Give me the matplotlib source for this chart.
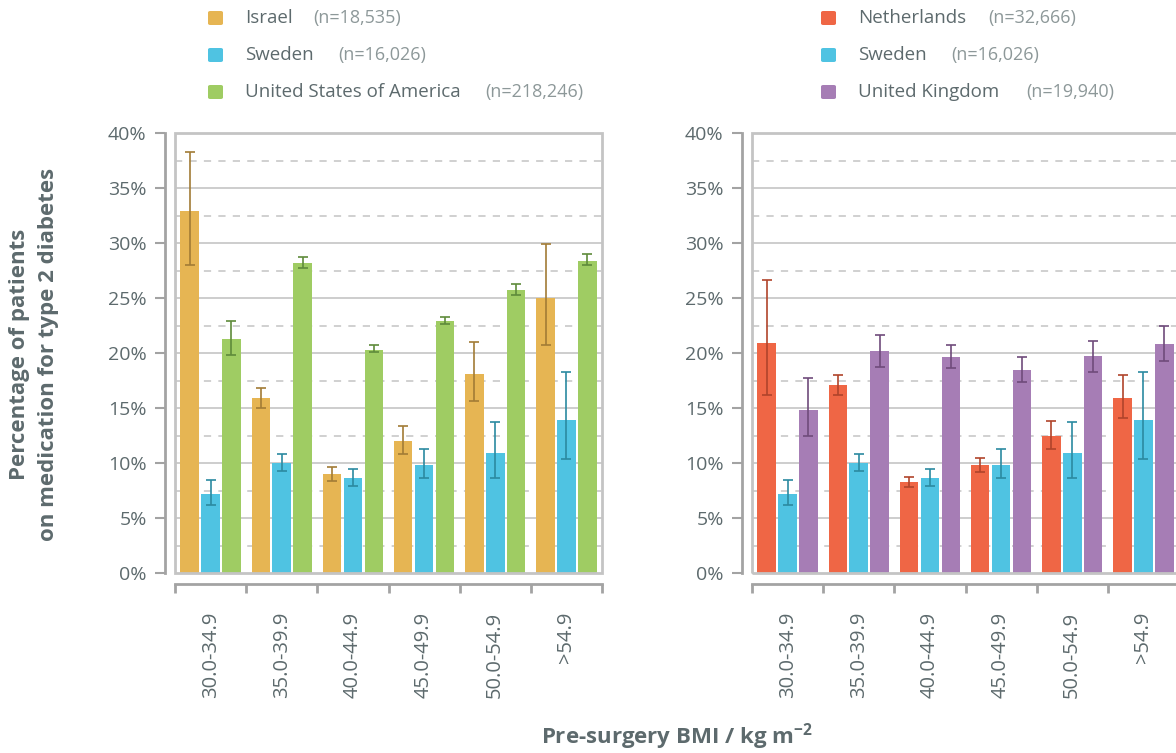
import numpy as np
import matplotlib.pyplot as plt
from matplotlib.patches import Rectangle, FancyBboxPatch

plt.rcParams['font.family'] = ['Open Sans', 'DejaVu Sans']

W, H = 1176, 753
TXT = '#5d6a6d'
TXT_LIGHT = '#8d9899'

bmi_groups = ['30.0-34.9', '35.0-39.9', '40.0-44.9', '45.0-49.9', '50.0-54.9', '>54.9']

# percentages on diabetes medication, with lower / upper CI limits
israel = [32.9, 15.9, 9.0, 12.0, 18.1, 25.0]
israel_lo = [28.0, 15.0, 8.4, 10.8, 15.6, 20.7]
israel_hi = [38.3, 16.85, 9.65, 13.4, 21.0, 29.9]

sweden = [7.2, 10.0, 8.6, 9.85, 10.9, 13.9]
sweden_lo = [6.2, 9.3, 7.9, 8.6, 8.6, 10.4]
sweden_hi = [8.5, 10.8, 9.5, 11.3, 13.7, 18.3]

usa = [21.3, 28.2, 20.3, 22.9, 25.7, 28.4]
usa_lo = [19.85, 27.75, 20.1, 22.6, 25.3, 28.0]
usa_hi = [22.9, 28.7, 20.7, 23.3, 26.25, 29.0]

netherlands = [20.9, 17.05, 8.25, 9.8, 12.5, 15.9]
netherlands_lo = [16.2, 16.2, 7.85, 9.15, 11.3, 14.1]
netherlands_hi = [26.6, 18.0, 8.7, 10.5, 13.8, 18.0]

uk = [14.8, 20.15, 19.6, 18.45, 19.7, 20.8]
uk_lo = [12.5, 18.75, 18.6, 17.4, 18.3, 19.3]
uk_hi = [17.7, 21.6, 20.7, 19.6, 21.1, 22.5]

left_series = [
    ('Israel', '(n=18,535)', israel, israel_lo, israel_hi, '#e6b553', '#a27c36'),
    ('Sweden', '(n=16,026)', sweden, sweden_lo, sweden_hi, '#4fc3e2', '#2b8aa1'),
    ('United States of America', '(n=218,246)', usa, usa_lo, usa_hi, '#9fcc63', '#5f8b3b'),
]
right_series = [
    ('Netherlands', '(n=32,666)', netherlands, netherlands_lo, netherlands_hi, '#ef6645', '#b0442b'),
    ('Sweden', '(n=16,026)', sweden, sweden_lo, sweden_hi, '#4fc3e2', '#2b8aa1'),
    ('United Kingdom', '(n=19,940)', uk, uk_lo, uk_hi, '#a67db5', '#6f4b7b'),
]


def fx(px):
    return px / W


def fy(py):
    return 1 - py / H


fig = plt.figure(figsize=(W / 100, H / 100), dpi=100)


def panel(x0, series):
    ax = fig.add_axes([fx(x0), fy(573), 427 / W, 440 / H])
    ax.set_xlim(0, 6)
    ax.set_ylim(0, 40)
    centers = np.arange(len(bmi_groups)) + 0.5
    for i, (name, n, vals, lo, hi, col, ecol) in enumerate(series):
        vals = np.array(vals)
        x = centers + (i - 1) * 0.293
        ax.bar(x, vals, 0.26, color=col, zorder=3)
        yerr = [vals - np.array(lo), np.array(hi) - vals]
        ax.errorbar(x, vals, yerr=yerr, fmt='none', ecolor=ecol, elinewidth=1.2,
                    capsize=3.5, capthick=1.2, zorder=4)

    # grid: solid every 5 %, dashed halfway between
    for v in np.arange(5, 40, 5):
        ax.axhline(v, color='#c9c9c9', lw=1.3, zorder=1)
    for v in np.arange(2.5, 40, 5):
        ax.axhline(v, color='#cdcdcd', lw=1.3, ls=(0, (4, 4)), zorder=1)
    ax.add_patch(Rectangle((0, 0), 1, 1, transform=ax.transAxes, fill=False,
                           ec='#c4c4c4', lw=2, zorder=5, clip_on=False))

    for s in ['top', 'right']:
        ax.spines[s].set_visible(False)
    ax.spines['left'].set_position(('outward', 7.2))
    ax.spines['bottom'].set_position(('outward', 8))
    for s in ['left', 'bottom']:
        ax.spines[s].set_color('#a3a3a3')
        ax.spines[s].set_linewidth(2)

    ax.set_yticks(np.arange(0, 41, 5))
    ax.set_yticklabels([f'{v}%' for v in range(0, 41, 5)])
    ax.tick_params(axis='y', length=7.2, width=1.5, color='#a3a3a3', pad=6,
                   labelsize=14, labelcolor=TXT)

    ax.set_xticks(np.arange(0, 7))
    ax.set_xticklabels([])
    ax.set_xticks(centers, minor=True)
    ax.set_xticklabels(bmi_groups, minor=True, rotation=90, va='top')
    ax.tick_params(axis='x', which='major', length=6.5, width=2, color='#a3a3a3')
    ax.tick_params(axis='x', which='minor', length=0, pad=20, labelsize=14.5,
                   labelcolor=TXT)
    return ax


def legend(sq_x, txt_x, n_xs, series):
    for k, (name, n, vals, lo, hi, col, ecol) in enumerate(series):
        yc = 18 + k * 37
        fig.patches.append(FancyBboxPatch((fx(sq_x), fy(yc + 7)), 15 / W, 14 / H,
                                          boxstyle='round,pad=0,rounding_size=0.002',
                                          transform=fig.transFigure, fc=col, ec='none'))
        fig.text(fx(txt_x), fy(yc), name, fontsize=13.5, color=TXT, va='center')
        fig.text(fx(n_xs[k]), fy(yc), n, fontsize=13, color=TXT_LIGHT, va='center')


panel(175, left_series)
panel(752, right_series)
legend(208, 245, [313, 338, 485], left_series)
legend(821, 858, [988, 951, 1026], right_series)

fig.text(fx(20), fy(354), 'Percentage of patients', rotation=90, fontsize=16,
         fontweight='bold', color=TXT, ha='center', va='center')
fig.text(fx(49), fy(354), 'on medication for type 2 diabetes', rotation=90, fontsize=16,
         fontweight='bold', color=TXT, ha='center', va='center')
fig.text(fx(677), fy(737), 'Pre-surgery BMI / kg m$^{\\mathregular{-2}}$', fontsize=16,
         fontweight='bold', color=TXT, ha='center', va='center')

fig.savefig('out.png', dpi=100)
